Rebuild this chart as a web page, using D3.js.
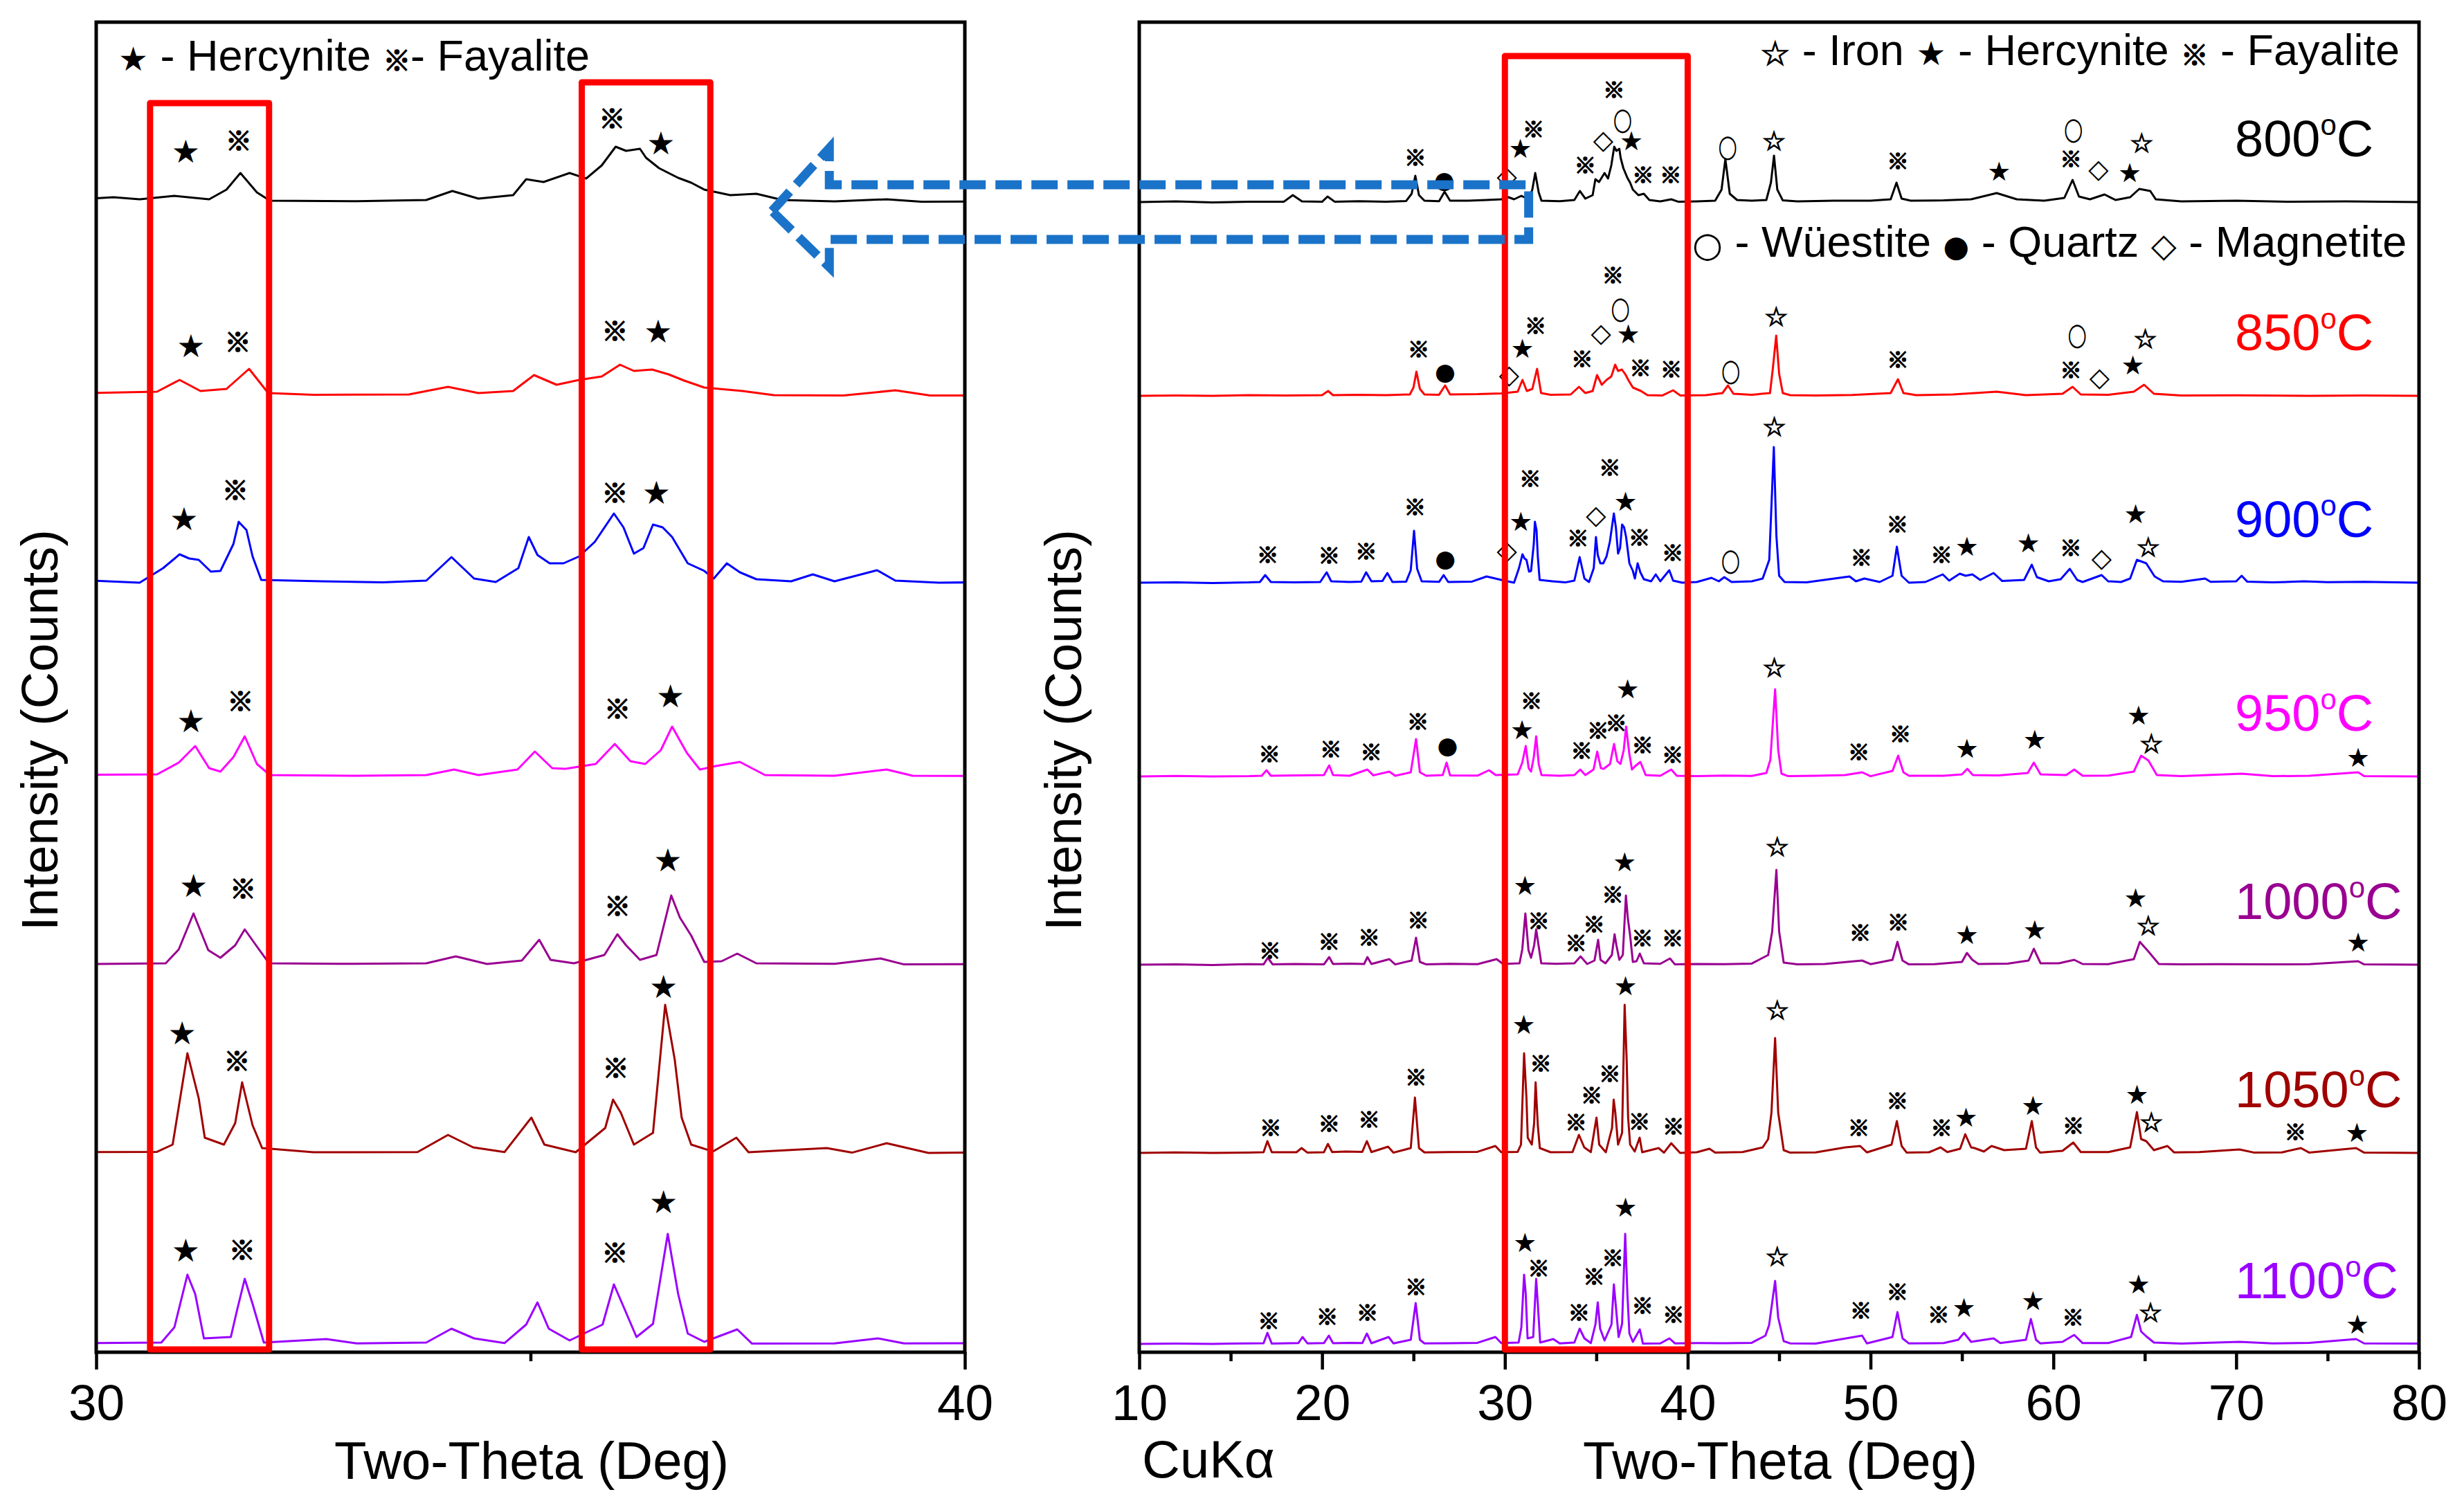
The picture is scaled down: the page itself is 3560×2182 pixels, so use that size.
<!DOCTYPE html>
<html>
<head>
<meta charset="utf-8">
<script src="https://cdn.jsdelivr.net/npm/d3@7"></script>
<style>
  body { margin: 0; background: #fff; }
  svg text { font-family: "Liberation Sans", Arial, sans-serif; }
  svg .sym { font-family: "DejaVu Sans", "Noto Sans CJK SC", sans-serif; }
  svg .ref { font-family: "Noto Sans CJK JP", "DejaVu Sans", sans-serif; }
</style>
</head>
<body>
<div id="chart"></div>
<script>
// temperatures and their trace colours
const temps = ["800", "850", "900", "950", "1000", "1050", "1100"];
const colors = ["#000000", "#ff0000", "#0000ff", "#ff00ff", "#990090", "#a00000", "#9a00ff"];

// XRD scans: [two-theta, counts]
const xrd800 = [[10,60],[12,65],[14,58],[16,62],[17.9,62],[18.4,110],[18.9,65],[20,62],[20.3,100],[20.7,62],[22,66],[23.5,62],[24.6,68],[24.9,120],[25.1,250],[25.3,110],[25.6,70],[26.4,66],[26.7,135],[27.0,70],[28,70],[29,75],[29.8,80],[30.2,95],[30.5,80],[30.9,105],[31.3,80],[31.5,150],[31.66,270],[31.85,130],[32.0,70],[33,66],[33.8,75],[34.1,140],[34.4,85],[34.8,110],[34.95,225],[35.15,205],[35.45,270],[35.64,230],[35.82,325],[35.98,460],[36.1,430],[36.26,445],[36.33,380],[36.48,305],[36.7,235],[36.85,200],[37.0,150],[37.3,110],[37.6,120],[37.9,75],[38.5,65],[39.1,80],[39.5,62],[40.5,65],[41.5,70],[41.85,150],[42.06,370],[42.3,120],[42.7,75],[43.5,70],[44.3,75],[44.55,200],[44.72,395],[44.9,150],[45.2,72],[46,65],[48,70],[50,70],[51.1,80],[51.42,200],[51.7,85],[52.2,70],[54,72],[55.5,80],[56.9,125],[58,80],[59.5,70],[60.6,90],[61.05,220],[61.4,100],[62,80],[62.8,115],[63.4,75],[64.2,95],[64.7,155],[65.3,140],[65.6,80],[67,65],[70,70],[73,62],[76,65],[80,60]];
const xrd850 = [[10,60],[12,62],[14,60],[16,65],[18,62],[20.0,65],[20.33,95],[20.6,65],[22,68],[23.5,65],[24.8,70],[25.0,120],[25.16,235],[25.35,110],[25.6,70],[26.4,68],[26.73,135],[27.0,70],[28.5,72],[29.8,78],[30.7,90],[30.96,175],[31.2,95],[31.5,110],[31.76,255],[31.98,80],[32.5,68],[33.6,70],[34.05,125],[34.4,80],[34.8,95],[35.04,210],[35.3,140],[35.56,175],[35.82,200],[36.03,285],[36.19,240],[36.4,250],[36.59,215],[36.77,170],[37.0,120],[37.44,95],[37.8,65],[38.6,62],[39.2,100],[39.6,62],[41,65],[41.9,80],[42.2,135],[42.5,75],[43.5,68],[44.5,80],[44.65,250],[44.84,495],[45.0,220],[45.2,80],[45.6,65],[47,62],[49,66],[51.1,80],[51.5,180],[51.8,80],[52.5,65],[54.5,70],[56.9,90],[58.5,65],[60.5,75],[61.05,125],[61.5,70],[63,68],[64.4,90],[64.96,140],[65.5,75],[67,62],[70,64],[74,60],[77,62],[80,60]];
const xrd900 = [[10,60],[12,62],[14,58],[16,62],[16.6,65],[16.89,115],[17.2,65],[18.5,62],[19.9,65],[20.25,135],[20.5,70],[21.5,65],[22.15,68],[22.41,135],[22.7,70],[23.3,72],[23.57,130],[23.85,65],[24.6,68],[24.85,150],[25.03,435],[25.2,160],[25.45,70],[26.4,66],[26.65,115],[26.9,65],[28.2,68],[29.0,105],[29.8,80],[30.5,60],[30.77,165],[30.96,265],[31.07,235],[31.18,225],[31.32,140],[31.43,145],[31.58,340],[31.64,500],[31.73,440],[31.8,250],[31.9,80],[32.6,70],[33.3,62],[33.8,75],[34.09,245],[34.35,90],[34.6,65],[34.86,165],[34.98,390],[35.08,260],[35.22,200],[35.38,200],[35.56,250],[35.74,355],[35.96,560],[36.07,460],[36.19,270],[36.3,310],[36.41,480],[36.52,460],[36.63,390],[36.81,200],[37.0,145],[37.11,90],[37.26,200],[37.41,135],[37.6,85],[38.0,70],[38.25,120],[38.5,70],[38.99,150],[39.2,75],[39.7,60],[40.5,65],[41.3,95],[41.7,70],[42.0,100],[42.4,65],[43.5,70],[44.1,90],[44.46,225],[44.71,1040],[44.85,400],[45.0,110],[45.3,65],[46.5,62],[48.85,105],[49.2,70],[49.66,90],[50.5,65],[51.2,110],[51.44,320],[51.7,110],[52.1,60],[53,65],[53.95,120],[54.3,75],[54.88,125],[55.2,110],[55.57,120],[56.0,80],[56.73,130],[57.2,72],[58.4,80],[58.82,190],[59.1,100],[59.75,70],[60.4,85],[60.9,160],[61.3,80],[61.6,65],[62.64,115],[63.0,70],[63.7,65],[64.2,90],[64.57,225],[65.08,200],[65.54,105],[66,70],[67,66],[68.3,90],[68.6,66],[70.0,70],[70.3,110],[70.6,68],[72,62],[73.7,70],[75,64],[77,66],[80,60]];
const xrd950 = [[10,60],[12,64],[14,60],[16,62],[16.7,65],[16.96,105],[17.2,65],[18.5,68],[20.1,70],[20.39,140],[20.6,70],[21.5,65],[22.48,110],[22.8,68],[23.68,95],[24,65],[24.85,90],[25.14,330],[25.35,90],[25.7,65],[26.6,70],[26.81,160],[27.0,68],[28.5,66],[29.13,105],[29.5,70],[30.7,75],[30.95,160],[31.14,280],[31.3,120],[31.43,95],[31.58,200],[31.71,350],[31.85,150],[32.0,70],[33,65],[33.8,70],[34.12,110],[34.4,70],[34.85,110],[35.05,240],[35.25,120],[35.4,115],[35.75,150],[35.97,295],[36.15,170],[36.32,150],[36.5,250],[36.63,420],[36.8,230],[36.95,110],[37.13,135],[37.41,165],[37.7,70],[38.5,65],[39.1,110],[39.4,65],[40.5,62],[42,66],[43.5,64],[44.3,85],[44.52,180],[44.78,690],[44.95,250],[45.13,80],[45.5,62],[47,65],[48.6,70],[49.54,90],[50,62],[51.2,100],[51.51,210],[51.8,90],[52.1,65],[54,65],[55.0,75],[55.29,115],[55.6,70],[57,68],[58.6,85],[58.93,160],[59.3,75],[60.7,70],[61.14,110],[61.6,65],[63,66],[64.4,95],[64.8,210],[65.2,175],[65.66,70],[67,62],[70.3,80],[72,62],[74,65],[76.67,90],[77,62],[80,60]];
const xrd1000 = [[10,60],[12,62],[14,58],[16,64],[16.8,62],[17.03,110],[17.3,62],[18.5,65],[20.1,62],[20.39,115],[20.6,65],[21.5,68],[22.3,65],[22.48,115],[22.7,65],[23.68,100],[24,62],[24.9,90],[25.14,255],[25.35,80],[25.7,62],[27,66],[28.5,64],[29.55,100],[29.9,65],[30.8,70],[30.95,170],[31.12,430],[31.29,165],[31.43,110],[31.6,200],[31.71,315],[31.84,200],[31.99,70],[32.8,66],[33.8,70],[34.14,120],[34.5,65],[34.9,90],[35.1,240],[35.23,95],[35.5,70],[35.85,130],[36.0,280],[36.1,200],[36.26,95],[36.45,130],[36.62,560],[36.72,400],[36.85,270],[37.0,80],[37.2,85],[37.38,140],[37.6,70],[38.5,66],[39.03,105],[39.3,62],[40.5,65],[42,64],[43.5,68],[44.4,130],[44.62,300],[44.85,745],[45.0,300],[45.25,75],[46,62],[47.5,65],[49.54,90],[50,64],[51.2,95],[51.47,225],[51.75,90],[52.1,62],[53.5,64],[55.0,80],[55.27,145],[55.57,95],[55.9,65],[57.5,68],[58.65,90],[58.93,175],[59.3,70],[60.3,70],[61.14,95],[61.6,65],[63,64],[64.4,100],[64.73,225],[65.2,155],[65.77,65],[67,62],[69,64],[72,62],[74,64],[76.67,85],[77,62],[80,60]];
const xrd1050 = [[10,60],[12,64],[14,60],[16,62],[16.8,65],[17.01,145],[17.25,65],[18.6,65],[18.88,95],[19.2,62],[20.1,65],[20.32,125],[20.55,66],[21.3,70],[22.2,68],[22.45,145],[22.7,66],[23.61,105],[23.9,62],[24.85,95],[25.08,460],[25.3,95],[25.6,64],[27,66],[28.5,68],[29.48,110],[29.8,65],[30.7,68],[30.88,120],[31.05,780],[31.18,455],[31.25,170],[31.47,120],[31.6,275],[31.68,570],[31.8,260],[31.91,95],[32.5,65],[33.7,66],[34.05,190],[34.34,100],[34.7,66],[35.01,315],[35.16,120],[35.52,65],[35.86,240],[35.95,445],[36.04,350],[36.19,120],[36.41,205],[36.55,1130],[36.66,735],[36.74,315],[36.85,120],[37.1,70],[37.37,170],[37.51,65],[38.41,95],[38.7,62],[39.1,130],[39.58,60],[40.5,65],[41.19,90],[41.5,62],[43,66],[44.1,100],[44.4,160],[44.58,350],[44.78,890],[44.95,350],[45.25,80],[45.6,62],[47,64],[48.62,100],[49.43,110],[49.8,64],[51.15,120],[51.44,290],[51.7,110],[51.98,62],[53.2,65],[53.83,100],[54.2,66],[54.9,90],[55.18,195],[55.5,100],[55.69,95],[56.2,70],[56.62,110],[57.31,80],[58.5,90],[58.82,290],[59.05,100],[59.28,62],[60.5,75],[61.09,135],[61.5,66],[63,66],[64.2,100],[64.57,355],[64.8,160],[65.08,145],[65.5,80],[66.24,110],[66.6,64],[68,66],[70.18,85],[71,62],[72.5,64],[73.54,95],[74,62],[76.56,95],[77,62],[80,60]];
const xrd1100 = [[10,60],[12,62],[14,60],[16,64],[16.8,65],[17.01,140],[17.25,62],[18.7,66],[18.93,110],[19.2,64],[20.1,66],[20.37,120],[20.6,65],[21.5,68],[22.2,66],[22.45,135],[22.7,65],[23.64,110],[23.9,64],[24.85,90],[25.12,355],[25.35,90],[25.6,64],[27,65],[28.5,68],[29.48,110],[29.8,66],[30.75,70],[30.9,180],[31.05,560],[31.14,420],[31.24,100],[31.55,110],[31.62,300],[31.71,530],[31.8,350],[31.93,70],[32.65,95],[33,64],[33.8,70],[34.09,170],[34.35,100],[34.7,66],[34.95,200],[35.08,360],[35.21,170],[35.45,85],[35.83,200],[35.96,490],[36.07,330],[36.22,110],[36.41,205],[36.58,855],[36.7,420],[36.81,135],[37.0,75],[37.38,165],[37.55,62],[38.5,64],[39.0,100],[39.3,64],[40.5,66],[42,65],[43.5,68],[44.25,120],[44.45,195],[44.78,515],[44.95,250],[45.25,80],[45.6,64],[47,62],[49.54,120],[49.8,64],[51.2,110],[51.47,290],[51.75,100],[52.09,64],[54,66],[54.8,90],[55.11,140],[55.5,75],[56.73,100],[57.1,66],[58.5,90],[58.77,240],[59.05,90],[59.28,64],[60.5,75],[61.14,125],[61.6,66],[63,66],[64.25,110],[64.57,270],[64.8,150],[65.08,115],[65.5,70],[67,62],[70.18,75],[72,64],[74,68],[76.56,95],[77,64],[80,62]];
const scans = [xrd800, xrd850, xrd900, xrd950, xrd1000, xrd1050, xrd1100];

// phase marks over the full scan: [phase, two-theta, counts level]
// F fayalite, H hercynite, I iron, W wuestite, Q quartz, M magnetite
const marks800 = [["F",25.1,395],["Q",26.68,220],["M",30.11,250],["H",30.84,445],["F",31.56,600],["F",34.39,340],["M",35.38,510],["W",36.44,665],["F",35.96,885],["H",36.92,500],["F",37.55,270],["F",39.07,270],["W",42.19,470],["I",44.72,500],["F",51.5,370],["H",57.03,280],["F",60.96,385],["W",61.1,595],["M",62.47,300],["H",64.18,270],["I",64.83,485]];
const marks850 = [["F",25.28,410],["Q",26.73,235],["M",30.23,215],["H",30.96,400],["F",31.68,580],["F",34.22,340],["M",35.26,515],["W",36.32,700],["F",35.91,945],["H",36.75,505],["F",37.41,275],["F",39.1,265],["W",42.36,250],["I",44.84,630],["F",51.5,335],["W",61.3,510],["F",60.96,260],["M",62.52,195],["H",64.35,280],["I",65.03,470]];
const marks900 = [["F",17.03,275],["F",20.39,270],["F",22.41,300],["F",25.08,620],["Q",26.74,235],["M",30.11,295],["H",30.87,500],["F",31.38,825],["F",34.0,395],["M",34.98,550],["F",35.74,905],["H",36.6,645],["F",37.36,400],["F",39.17,290],["W",42.35,230],["I",44.74,1185],["F",49.5,255],["F",51.47,495],["F",53.88,275],["H",55.27,320],["H",58.63,345],["F",60.95,325],["M",62.64,240],["H",64.5,555],["I",65.19,315]];
const marks950 = [["F",17.12,235],["F",20.48,270],["F",22.69,250],["F",25.24,470],["Q",26.86,285],["H",30.94,395],["F",31.45,620],["F",34.19,260],["F",35.09,405],["F",36.09,460],["H",36.71,690],["F",37.53,300],["F",39.17,230],["I",44.74,845],["F",49.36,250],["F",51.63,380],["H",55.27,260],["H",58.98,325],["H",64.66,500],["I",65.36,295],["H",76.67,195]];
const marks1000 = [["F",17.15,175],["F",20.39,240],["F",22.57,270],["F",25.26,395],["H",31.1,630],["F",31.85,390],["F",33.89,230],["F",34.88,365],["F",35.9,580],["H",36.55,800],["F",37.52,265],["F",39.17,265],["I",44.9,910],["F",49.43,305],["F",51.51,380],["H",55.27,275],["H",58.98,310],["H",64.5,540],["I",65.19,340],["H",76.67,220]];
const marks1050 = [["F",17.19,255],["F",20.39,285],["F",22.57,315],["F",25.14,620],["H",31.03,985],["F",31.96,720],["F",33.89,295],["F",34.74,490],["F",35.74,645],["H",36.6,1265],["F",37.36,300],["F",39.22,265],["I",44.9,1090],["F",49.36,255],["F",51.47,450],["F",53.88,255],["H",55.22,315],["H",58.89,400],["F",61.09,270],["H",64.57,480],["I",65.36,280],["F",73.24,225],["H",76.6,205]];
const marks1100 = [["F",17.08,240],["F",20.28,270],["F",22.48,300],["F",25.14,485],["H",31.1,790],["F",31.85,620],["F",34.05,300],["F",34.88,560],["F",35.9,695],["H",36.6,1045],["F",37.53,350],["F",39.22,285],["I",44.9,690],["F",49.47,315],["F",51.47,450],["F",53.72,285],["H",55.11,320],["H",58.89,370],["F",61.07,265],["H",64.66,490],["I",65.31,285],["H",76.63,200]];
const fullMarks = [marks800, marks850, marks900, marks950, marks1000, marks1050, marks1100];

// phase marks in the 30-40 close-up
const zoomMarks = [
  [["H",31.03,425],["F",31.64,520],["F",35.94,680],["H",36.5,485]],
  [["H",31.09,420],["F",31.63,465],["F",35.97,545],["H",36.47,525]],
  [["H",31.01,520],["F",31.6,745],["F",35.97,725],["H",36.45,710]],
  [["H",31.09,460],["F",31.66,620],["F",36.0,565],["H",36.61,640]],
  [["H",31.12,630],["F",31.69,625],["F",36.0,500],["H",36.58,815]],
  [["H",30.99,925],["F",31.62,740],["F",35.98,690],["H",36.53,1260]],
  [["H",31.03,735],["F",31.68,755],["F",35.97,735],["H",36.53,1085]]
];

// highlighted two-theta windows
const zoomWindows = [[30.62, 31.99, 9025], [35.59, 37.07, 9175]];
const fullWindow = [30, 40, 9365];

const phaseGlyph = {F: "\u203B", H: "\u2605", I: "\u2606", W: "\u25CB", Q: "\u25CF", M: "\u25C7"};

// ---- layout ----
const W = 3560, H = 2182;
const plotTop = 32, plotBottom = 1954;
const offsets = [8250, 6850, 5500, 4100, 2740, 1380, 0];

const svg = d3.select("#chart").append("svg")
  .attr("width", W).attr("height", H)
  .style("background", "#fff");

const y = d3.scaleLinear().domain([0, 9610]).range([plotBottom, plotTop]);
const xL = d3.scaleLinear().domain([30, 40]).range([139, 1394]);
const xR = d3.scaleLinear().domain([10, 80]).range([1646, 3495]);

const defs = svg.append("defs");

// relative glyph sizes and outline weights per phase
const glyphScale = {F: 0.82, H: 1, I: 1, W: 1.05, Q: 0.9, M: 1};
const glyphStroke = {F: 1.6, I: 1.3};

// draw one phase glyph centred on (0,0)
function glyph(sel, size) {
  sel.attr("class", d => d[0] === "F" ? "ref" : "sym")
    .attr("text-anchor", "middle")
    .attr("dominant-baseline", "central")
    .attr("font-size", d => size * glyphScale[d[0]])
    .attr("stroke", d => glyphStroke[d[0]] ? "#000" : "none")
    .attr("stroke-width", d => glyphStroke[d[0]] || 0)
    .text(d => phaseGlyph[d[0]]);
}

function drawPanel(x, id, majors, minors, markList, symSize) {
  const [r0, r1] = x.range();
  defs.append("clipPath").attr("id", id)
    .append("rect").attr("x", r0).attr("y", plotTop).attr("width", r1 - r0).attr("height", plotBottom - plotTop);

  const g = svg.append("g");
  const traces = g.append("g").attr("clip-path", `url(#${id})`);
  scans.forEach((scan, i) => {
    const line = d3.line().x(d => x(d[0])).y(d => y(d[1] + offsets[i]));
    traces.append("path")
      .attr("d", line(scan))
      .attr("fill", "none")
      .attr("stroke", colors[i])
      .attr("stroke-width", 3)
      .attr("stroke-linejoin", "round");
  });

  // phase marks
  markList.forEach((marks, i) => {
    g.selectAll(null)
      .data(marks)
      .enter()
      .append("text")
      .attr("transform", d => `translate(${x(d[1])},${y(d[2] + offsets[i])})` + (d[0] === "W" ? " scale(0.8,1.12)" : ""))
      .call(glyph, symSize);
  });

  // frame
  g.append("rect")
    .attr("x", r0).attr("y", plotTop)
    .attr("width", r1 - r0).attr("height", plotBottom - plotTop)
    .attr("fill", "none").attr("stroke", "#000").attr("stroke-width", 5);

  // ticks
  const major = d3.axisBottom(x).tickValues(majors).tickSize(25).tickPadding(21).tickFormat(d3.format("d"));
  const minor = d3.axisBottom(x).tickValues(minors).tickSize(13).tickFormat("");
  [major, minor].forEach(ax => {
    const a = g.append("g").attr("transform", `translate(0,${plotBottom})`).call(ax);
    a.select(".domain").remove();
    a.selectAll(".tick line").attr("stroke", "#000").attr("stroke-width", 4.5);
    a.selectAll(".tick text")
      .attr("fill", "#000")
      .style("font-family", '"Liberation Sans", Arial, sans-serif')
      .style("font-size", "73px");
  });
  return g;
}

const gLeft = drawPanel(xL, "clipL", [30, 40], [35], zoomMarks, 46);
const gRight = drawPanel(xR, "clipR", d3.range(10, 81, 10), d3.range(15, 80, 10), fullMarks, 38);

// red windows
function windowBox(g, x, w) {
  g.append("path")
    .attr("d", `M${x(w[0])},${y(20)} V${y(w[2])} H${x(w[1])} V${y(20)} Z`)
    .attr("fill", "none")
    .attr("stroke", "#ff0000")
    .attr("stroke-width", 9)
    .attr("stroke-linejoin", "round");
}
zoomWindows.forEach(w => windowBox(gLeft, xL, w));
windowBox(gRight, xR, fullWindow);

// temperature labels
temps.forEach((t, i) => {
  const txt = svg.append("text")
    .attr("x", 3229)
    .attr("y", y(60 + offsets[i]) - 66)
    .attr("fill", colors[i])
    .attr("font-size", 74);
  txt.append("tspan").text(t);
  txt.append("tspan").attr("font-size", 42).attr("dy", -31).text("o");
  txt.append("tspan").attr("dy", 31).text("C");
});

// legends
function legend(x, yy, parts, anchor) {
  const t = svg.append("text").attr("x", x).attr("y", yy)
    .attr("font-size", 63).attr("text-anchor", anchor).attr("fill", "#000");
  parts.forEach(p => {
    if (p.sym) {
      t.append("tspan")
        .attr("class", p.sym === "F" ? "ref" : "sym")
        .attr("font-size", 48 * glyphScale[p.sym])
        .attr("stroke", glyphStroke[p.sym] ? "#000" : "none")
        .attr("stroke-width", glyphStroke[p.sym] || 0)
        .text(phaseGlyph[p.sym]);
    } else {
      t.append("tspan").text(p.txt);
    }
  });
}
legend(171, 102, [{sym: "H"}, {txt: " - Hercynite  "}, {sym: "F"}, {txt: "- Fayalite"}], "start");
legend(3467, 94, [{sym: "I"}, {txt: " - Iron "}, {sym: "H"}, {txt: " - Hercynite "}, {sym: "F"}, {txt: " - Fayalite"}], "end");
legend(2445, 371, [{sym: "W"}, {txt: " - W\u00fcestite "}, {sym: "Q"}, {txt: " - Quartz "}, {sym: "M"}, {txt: " - Magnetite"}], "start");

// axis titles
[[768, "Two-Theta (Deg)"], [2572, "Two-Theta (Deg)"]].forEach(([cx, s]) => {
  svg.append("text").attr("x", cx).attr("y", 2137)
    .attr("text-anchor", "middle").attr("font-size", 76).text(s);
});
svg.append("text").attr("x", 1650).attr("y", 2135).attr("font-size", 76).text("CuK\u03B1");

[83, 1562].forEach(bx => {
  svg.append("text")
    .attr("transform", `translate(${bx},1055) rotate(-90)`)
    .attr("text-anchor", "middle")
    .attr("font-size", 74)
    .text("Intensity (Counts)");
});

// dashed blue arrow from the full scan window to the close-up
const arrow = [
  [xL(37.78), y(8245)], [xL(38.44), y(8700)], [xL(38.44), y(8435)],
  [xR(31.3), y(8435)], [xR(31.3), y(8040)], [xL(38.44), y(8040)],
  [xL(38.44), y(7840)]
];
svg.append("path")
  .attr("d", d3.line()(arrow) + "Z")
  .attr("fill", "none")
  .attr("stroke", "#1a73c8")
  .attr("stroke-width", 13)
  .attr("stroke-dasharray", "38,14")
  .attr("stroke-linejoin", "miter");
</script>
</body>
</html>
